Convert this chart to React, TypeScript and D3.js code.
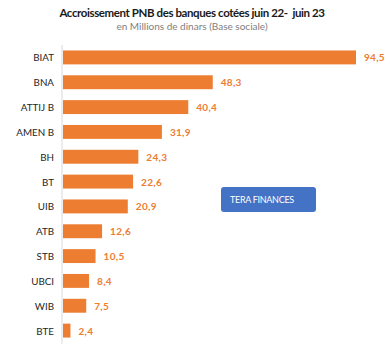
import * as d3 from "d3";

const banks = ["BIAT", "BNA", "ATTIJ B", "AMEN B", "BH", "BT", "UIB", "ATB", "STB", "UBCI", "WIB", "BTE"];
const growth = [94.5, 48.3, 40.4, 31.9, 24.3, 22.6, 20.9, 12.6, 10.5, 8.4, 7.5, 2.4];

const title = "Accroissement PNB des banques cotées juin 22-  juin 23";
const subtitle = "en Millions de dinars (Base sociale)";
const badge = "TERA FINANCES";

const W = 385;
const H = 351;
const orange = "#ED7D31";

export default function App() {
  const x0 = 63;
  const x = d3.scaleLinear().domain([0, 94.5]).range([x0, 356]);
  const y = d3
    .scaleBand()
    .domain(banks)
    .range([45, 343])
    .paddingInner(0.44)
    .paddingOuter(0.22);

  const fmt = (v: number) => v.toFixed(1).replace(".", ",");

  return (
    <svg
      width={W}
      height={H}
      style={{ position: "absolute", left: 0, top: 0, background: "#fff" }}
      fontFamily="Lato, 'Noto Sans', sans-serif"
    >
      <text
        x={192}
        y={17}
        textAnchor="middle"
        fontSize={11.5}
        fontWeight={700}
        fill="#1a1a1a"
        letterSpacing={-0.4}
        style={{ whiteSpace: "pre" }}
      >
        {title}
      </text>
      <text x={192} y={30} textAnchor="middle" fontSize={10} fill="#808080">
        {subtitle}
      </text>

      {/* axis */}
      <line x1={62} x2={62} y1={45} y2={344} stroke="#d9d9d9" strokeWidth={1} />

      {banks.map((b, i) => {
        const yy = y(b)!;
        const bh = y.bandwidth();
        return (
          <g key={b}>
            <rect x={x0} y={yy} width={x(growth[i]) - x0} height={bh} fill={orange} />
            <text
              x={54}
              y={yy + bh / 2}
              textAnchor="end"
              dominantBaseline="central"
              fontSize={9.8}
              fill="#262626"
            >
              {b}
            </text>
            <text
              x={x(growth[i]) + 8}
              y={yy + bh / 2}
              dominantBaseline="central"
              fontSize={10}
              fontWeight={700}
              fill={orange}
              letterSpacing={0.3}
            >
              {fmt(growth[i])}
            </text>
          </g>
        );
      })}

      <rect x={221} y={187} width={95} height={25} rx={3} fill="#4472C4" />
      <text x={230} y={199.5} dominantBaseline="central" fontSize={9} fill="#fff" letterSpacing={-0.3}>
        {badge}
      </text>
    </svg>
  );
}
